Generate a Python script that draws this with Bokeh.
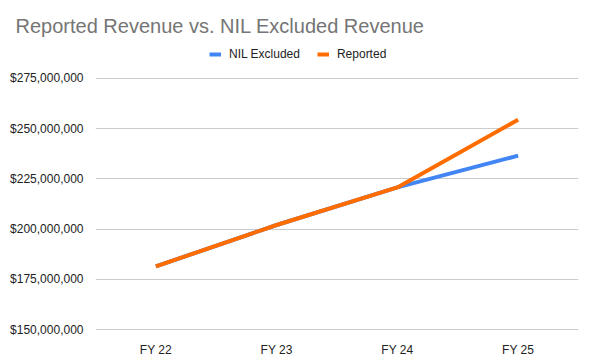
from bokeh.plotting import figure
from bokeh.models import Legend, LegendItem, NumeralTickFormatter, Range1d, FixedTicker, Title
from bokeh.embed import file_html
from bokeh.resources import INLINE

categories = ["FY 22", "FY 23", "FY 24", "FY 25"]
nil_excluded = [181400000, 202000000, 220700000, 236500000]
reported = [181400000, 202000000, 220700000, 254400000]
y_ticks = [150000000, 175000000, 200000000, 225000000, 250000000, 275000000]

FONT = "Liberation Sans"

p = figure(x_range=categories, width=592, height=359, output_backend="svg",
           toolbar_location=None, min_border_left=95, min_border_right=14,
           min_border_top=46, min_border_bottom=27, title=None)
# frame runs from y=46 to y=332 so the legend fits inside; ticks stop at 275M
p.y_range = Range1d(149506000, 290810000)
p.x_range.range_padding = 0

r1 = p.line(categories, nil_excluded, line_color="#4285F4", line_width=4)
r2 = p.line(categories, reported, line_color="#FF6D01", line_width=4)

p.outline_line_color = None
p.xgrid.grid_line_color = None
p.ygrid.grid_line_color = "#cccccc"
p.ygrid.grid_line_width = 1

p.yaxis.ticker = FixedTicker(ticks=y_ticks)
p.yaxis.formatter = NumeralTickFormatter(format="$0,0")
for ax in (p.xaxis, p.yaxis):
    ax.axis_line_color = None
    ax.major_tick_line_color = None
    ax.minor_tick_line_color = None
    ax.major_label_text_font = FONT
    ax.major_label_text_font_size = "12px"
    ax.major_label_text_color = "#222222"
p.yaxis.major_label_standoff = 6
p.xaxis.major_label_standoff = 6

legend = Legend(items=[LegendItem(label="NIL Excluded", renderers=[r1]),
                       LegendItem(label="Reported", renderers=[r2])],
                orientation="horizontal", location=(114, 268),
                label_text_font=FONT, label_text_font_size="12px",
                label_text_color="#222222", glyph_width=12, glyph_height=16,
                label_height=16,
                label_standoff=8, spacing=17, padding=0, margin=0,
                border_line_color=None, background_fill_alpha=0)
p.add_layout(legend, "center")

title = Title(text="Reported Revenue vs. NIL Excluded Revenue", align="left",
              offset=-80, text_font=FONT, text_font_size="20px",
              text_color="#757575", text_font_style="normal", standoff=20)
p.add_layout(title, "above")

open("out.html", "w").write(file_html(p, INLINE))
